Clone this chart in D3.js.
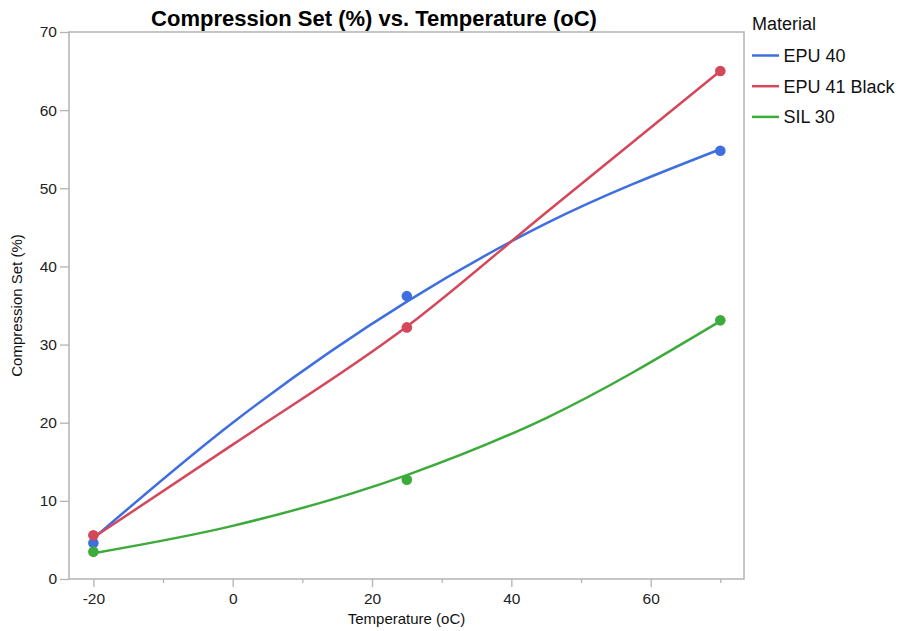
<!DOCTYPE html>
<html>
<head>
<meta charset="utf-8">
<script src="https://cdn.jsdelivr.net/npm/d3@7"></script>
<style>
    body { margin: 0; background: #fff; }
    svg { font-family: "Liberation Sans", Arial, sans-serif; }
</style>
</head>
<body>
<div id="chart"></div>
<script>
const materials = ['EPU 40', 'EPU 41 Black', 'SIL 30'];
const colors = ['#3f6fdf', '#d4485a', '#3cab3c'];

const temperatures = [-20, 25, 70];
const epu40Points = [4.6, 36.2, 54.8];
const epu41Points = [5.6, 32.2, 65.0];
const sil30Points = [3.5, 12.7, 33.1];

// smoother curves
const curveTemps = [-20, 0, 25, 45, 70];
const epu40Curve = [5.2, 20.0, 35.5, 45.5, 55.0];
const epu41Curve = [5.3, 17.2, 32.3, 46.9, 65.0];
const sil30Curve = [3.3, 6.8, 13.3, 20.6, 33.0];

const xTicks = [-20, 0, 20, 40, 60];
const xMinorTicks = [-10, 10, 30, 50, 70];
const yTicks = [0, 10, 20, 30, 40, 50, 60, 70];

const pointSets = [epu40Points, epu41Points, sil30Points];
const curveSets = [epu40Curve, epu41Curve, sil30Curve];

const margin = { top: 32, right: 155, bottom: 52, left: 69 };
const width = 899 - margin.left - margin.right;
const height = 631 - margin.top - margin.bottom;

const svg = d3.select('#chart')
    .append('svg')
    .attr('width', 899)
    .attr('height', 631);

const g = svg.append('g')
    .attr('transform', `translate(${margin.left},${margin.top})`);

const x = d3.scaleLinear()
    .domain([-23.5, 73.4])
    .range([0, width]);

const y = d3.scaleLinear()
    .domain([0, 70])
    .range([height, 0]);

const xAxis = g.append('g')
    .attr('transform', `translate(0,${height})`)
    .call(d3.axisBottom(x).tickValues(xTicks).tickSize(8).tickPadding(6).tickFormat(d => String(d)));

const xMinor = g.append('g')
    .attr('transform', `translate(0,${height})`)
    .call(d3.axisBottom(x).tickValues(xMinorTicks).tickSize(4).tickFormat(''));

const yAxis = g.append('g')
    .call(d3.axisLeft(y).tickValues(yTicks).tickSize(9).tickPadding(3).tickFormat(d => String(d)));

[xAxis, xMinor, yAxis].forEach(a => {
    a.select('.domain').remove();
    a.selectAll('.tick line').attr('stroke', '#b3b3b3').attr('stroke-width', 1.3);
    a.selectAll('.tick text')
        .attr('fill', '#222')
        .style('font-size', '15.5px')
        .style('font-family', '"Liberation Sans", Arial, sans-serif');
});

g.append('rect')
    .attr('width', width)
    .attr('height', height)
    .attr('fill', 'none')
    .attr('stroke', '#b3b3b3')
    .attr('stroke-width', 1.5);

const line = d3.line()
    .x(d => x(d[0]))
    .y(d => y(d[1]))
    .curve(d3.curveMonotoneX);

curveSets.forEach((vals, i) => {
    g.append('path')
        .datum(curveTemps.map((t, j) => [t, vals[j]]))
        .attr('fill', 'none')
        .attr('stroke', colors[i])
        .attr('stroke-width', 2.5)
        .attr('d', line);
});

pointSets.forEach((vals, i) => {
    g.append('g')
        .selectAll('circle')
        .data(temperatures.map((t, j) => [t, vals[j]]))
        .enter()
        .append('circle')
        .attr('cx', d => x(d[0]))
        .attr('cy', d => y(d[1]))
        .attr('r', 5.3)
        .attr('fill', colors[i]);
});

svg.append('text')
    .attr('x', 374)
    .attr('y', 26)
    .attr('text-anchor', 'middle')
    .style('font-size', '22px')
    .style('font-weight', 'bold')
    .text('Compression Set (%) vs. Temperature (oC)');

svg.append('text')
    .attr('x', margin.left + width / 2)
    .attr('y', 624)
    .attr('text-anchor', 'middle')
    .style('font-size', '15px')
    .attr('fill', '#111')
    .text('Temperature (oC)');

svg.append('text')
    .attr('transform', `translate(22,${margin.top + height / 2}) rotate(-90)`)
    .attr('text-anchor', 'middle')
    .style('font-size', '15px')
    .attr('fill', '#111')
    .text('Compression Set (%)');

const legend = svg.append('g')
    .attr('transform', 'translate(752,0)');

legend.append('text')
    .attr('x', 0)
    .attr('y', 30)
    .style('font-size', '18px')
    .attr('fill', '#111')
    .text('Material');

materials.forEach((m, i) => {
    const ly = 55.5 + i * 30.7;
    legend.append('line')
        .attr('x1', 0)
        .attr('x2', 27)
        .attr('y1', ly)
        .attr('y2', ly)
        .attr('stroke', colors[i])
        .attr('stroke-width', 2.5);
    legend.append('text')
        .attr('x', 31.5)
        .attr('y', ly + 6.5)
        .style('font-size', '18px')
        .attr('fill', '#111')
        .text(m);
});
</script>
</body>
</html>
